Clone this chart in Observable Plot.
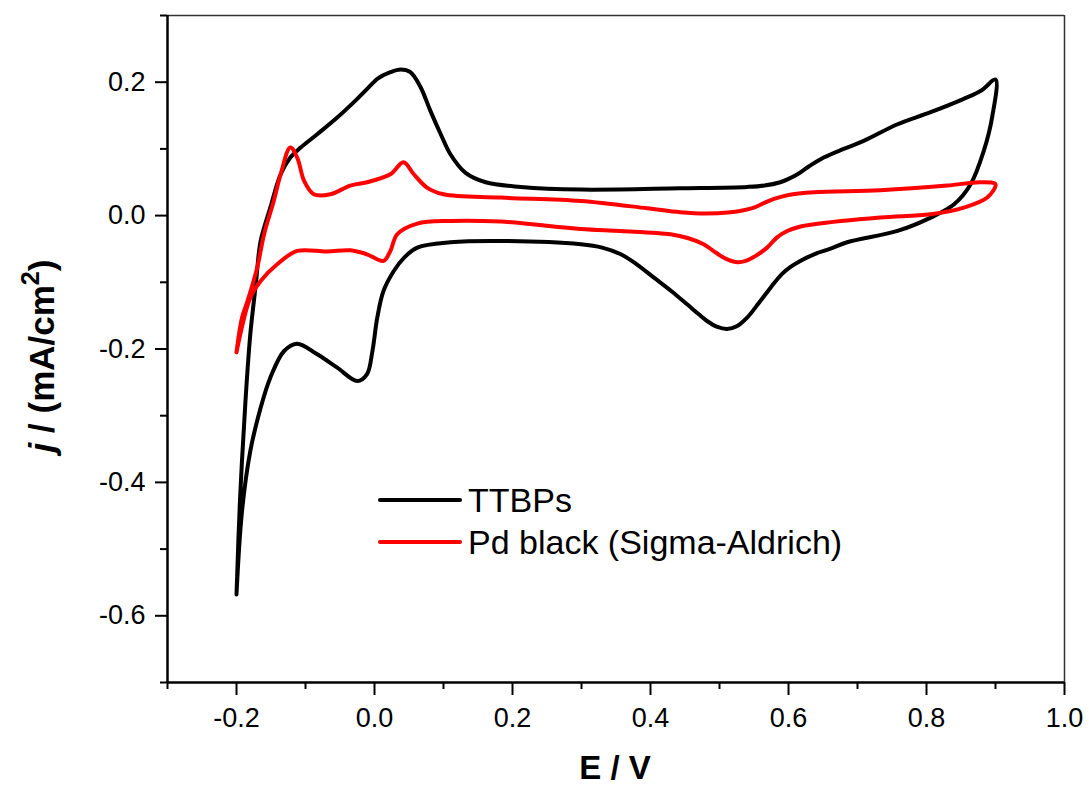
<!DOCTYPE html>
<html>
<head>
<meta charset="utf-8">
<script src="https://cdn.jsdelivr.net/npm/d3@7"></script>
<script src="https://cdn.jsdelivr.net/npm/@observablehq/plot@0.6"></script>
<style>
  body { margin: 0; background: #fff; font-family: "Liberation Sans", Arial, sans-serif; }
  #wrap { position: relative; width: 1089px; height: 787px; background: #fff; }
  #wrap > svg { position: absolute; left: 0; top: 0; }
  .xtitle { position: absolute; left: 415px; width: 400px; top: 748px; text-align: center;
            font-weight: bold; font-size: 33px; line-height: 40px; }
  .ytitle { position: absolute; left: 42px; top: 356px; width: 300px; margin-left: -150px; margin-top: -20px;
            text-align: center; font-weight: bold; font-size: 35px; line-height: 40px;
            transform: rotate(-90deg); white-space: nowrap; }
  .ytitle sup { font-size: 25px; vertical-align: 15px; line-height: 0; }
</style>
</head>
<body>
<div id="wrap"></div>
<script>
// ---- data ----
const ttbpsE = [-0.200, -0.195, -0.187, -0.180, -0.172, -0.165, -0.151, -0.136, -0.122, -0.107, -0.083, -0.054, -0.025, -0.001, 0.004, 0.023, 0.038, 0.052, 0.067, 0.081, 0.096, 0.110, 0.132, 0.161, 0.212, 0.299, 0.443, 0.540, 0.565, 0.588, 0.600, 0.613, 0.630, 0.651, 0.680, 0.709, 0.758, 0.806, 0.854, 0.880, 0.900,
  0.895, 0.883, 0.864, 0.840, 0.806, 0.758, 0.685, 0.660, 0.637, 0.617, 0.603, 0.590, 0.574, 0.557, 0.540, 0.525, 0.511, 0.497, 0.482, 0.470, 0.453, 0.430, 0.405, 0.380, 0.357, 0.330, 0.299, 0.183, 0.110, 0.062, 0.043, 0.028, 0.013, 0.004, -0.003, -0.011, -0.025, -0.054, -0.083, -0.112, -0.131, -0.151, -0.165, -0.180, -0.192, -0.200];
const ttbpsJ = [-0.568, -0.428, -0.278, -0.178, -0.103, -0.038, 0.012, 0.062, 0.087, 0.102, 0.122, 0.147, 0.175, 0.200, 0.205, 0.215, 0.219, 0.215, 0.192, 0.157, 0.122, 0.092, 0.064, 0.050, 0.043, 0.039, 0.041, 0.043, 0.045, 0.050, 0.055, 0.062, 0.074, 0.087, 0.100, 0.112, 0.137, 0.155, 0.175, 0.188, 0.204,
  0.147, 0.097, 0.047, 0.017, -0.003, -0.023, -0.040, -0.050, -0.058, -0.068, -0.077, -0.088, -0.108, -0.131, -0.153, -0.166, -0.170, -0.167, -0.158, -0.148, -0.133, -0.113, -0.093, -0.073, -0.058, -0.048, -0.043, -0.038, -0.040, -0.048, -0.063, -0.083, -0.113, -0.153, -0.203, -0.238, -0.248, -0.228, -0.208, -0.192, -0.203, -0.243, -0.288, -0.353, -0.443, -0.568];

const pdE = [-0.200, -0.192, -0.184, -0.170, -0.160, -0.146, -0.136, -0.122, -0.112, -0.102, -0.088, -0.064, -0.035, -0.011, 0.023, 0.042, 0.057, 0.076, 0.100, 0.183, 0.299, 0.395, 0.443, 0.480, 0.516, 0.535, 0.550, 0.565, 0.579, 0.600, 0.637, 0.733, 0.830, 0.878, 0.900,
  0.888, 0.854, 0.806, 0.733, 0.637, 0.615, 0.598, 0.583, 0.569, 0.553, 0.538, 0.526, 0.512, 0.501, 0.490, 0.477, 0.455, 0.429, 0.357, 0.299, 0.183, 0.110, 0.062, 0.033, 0.023, 0.013, -0.011, -0.035, -0.069, -0.112, -0.141, -0.165, -0.180, -0.200];
const pdJ = [-0.205, -0.153, -0.128, -0.078, -0.028, 0.022, 0.062, 0.102, 0.087, 0.052, 0.032, 0.032, 0.045, 0.050, 0.062, 0.080, 0.062, 0.042, 0.032, 0.027, 0.022, 0.011, 0.005, 0.003, 0.005, 0.008, 0.012, 0.019, 0.025, 0.031, 0.035, 0.038, 0.045, 0.050, 0.047,
  0.027, 0.012, 0.002, -0.003, -0.013, -0.017, -0.023, -0.033, -0.048, -0.060, -0.068, -0.070, -0.066, -0.060, -0.052, -0.043, -0.034, -0.028, -0.023, -0.020, -0.009, -0.008, -0.012, -0.028, -0.053, -0.068, -0.058, -0.052, -0.054, -0.053, -0.073, -0.098, -0.123, -0.205];

const seriesNames = ["TTBPs", "Pd black (Sigma-Aldrich)"];
const seriesColors = ["#000000", "#ff0000"];

const xDomain = [-0.3, 1.0];
const yDomain = [-0.7, 0.3];
const xMajorTicks = [-0.2, 0.0, 0.2, 0.4, 0.6, 0.8, 1.0];
const xMinorTicks = [-0.3, -0.1, 0.1, 0.3, 0.5, 0.7, 0.9];
const yMajorTicks = [-0.6, -0.4, -0.2, 0.0, 0.2];
const yMinorTicks = [-0.7, -0.5, -0.3, -0.1, 0.1, 0.3];

// ---- build tables ----
const ttbps = ttbpsE.map((e, i) => ({E: e, j: ttbpsJ[i]}));
const pd = pdE.map((e, i) => ({E: e, j: pdJ[i]}));
const fmt = d => (Math.abs(d) < 1e-9 ? 0 : d).toFixed(1);

const chart = Plot.plot({
  width: 1089,
  height: 787,
  marginLeft: 167,
  marginRight: 25,
  marginTop: 15,
  marginBottom: 105,
  x: {domain: xDomain},
  y: {domain: yDomain},
  style: {fontFamily: '"Liberation Sans", Arial, sans-serif', fontSize: "27px", color: "#000", background: "#fff", overflow: "visible"},
  marks: [
    Plot.axisX({ticks: xMajorTicks, tickSize: 13, tickPadding: 12, tickFormat: fmt, strokeWidth: 2, label: null}),
    Plot.axisX({ticks: xMinorTicks, tickSize: 7, tickFormat: () => "", strokeWidth: 2, label: null}),
    Plot.axisY({ticks: yMajorTicks, tickSize: 12, tickPadding: 10, tickFormat: fmt, strokeWidth: 2, label: null}),
    Plot.axisY({ticks: yMinorTicks, tickSize: 7, tickFormat: () => "", strokeWidth: 2, label: null}),
    Plot.ruleY([yDomain[1]], {stroke: "#333", strokeWidth: 1.5}),
    Plot.ruleX([xDomain[1]], {stroke: "#333", strokeWidth: 1.5}),
    Plot.ruleY([yDomain[0]], {stroke: "#000", strokeWidth: 2.5}),
    Plot.ruleX([xDomain[0]], {stroke: "#000", strokeWidth: 2.5}),
    Plot.line(ttbps, {x: "E", y: "j", stroke: seriesColors[0], strokeWidth: 4, curve: "catmull-rom", strokeLinejoin: "round"}),
    Plot.line(pd, {x: "E", y: "j", stroke: seriesColors[1], strokeWidth: 4, curve: "catmull-rom", strokeLinejoin: "round"})
  ]
});

const wrap = document.getElementById("wrap");
wrap.appendChild(chart);

// axis titles
const xt = document.createElement("div");
xt.className = "xtitle";
xt.textContent = "E / V";
wrap.appendChild(xt);

const yt = document.createElement("div");
yt.className = "ytitle";
yt.innerHTML = "<i>j</i> / (mA/cm<sup>2</sup>)";
wrap.appendChild(yt);

// legend
const ns = "http://www.w3.org/2000/svg";
const leg = document.createElementNS(ns, "svg");
leg.setAttribute("width", 520);
leg.setAttribute("height", 90);
leg.style.position = "absolute";
leg.style.left = "370px";
leg.style.top = "478px";
seriesNames.forEach((name, i) => {
  const cy = 22 + i * 42;
  const ln = document.createElementNS(ns, "line");
  ln.setAttribute("x1", 10); ln.setAttribute("x2", 90);
  ln.setAttribute("y1", cy); ln.setAttribute("y2", cy);
  ln.setAttribute("stroke", seriesColors[i]);
  ln.setAttribute("stroke-width", 4);
  ln.setAttribute("stroke-linecap", "round");
  leg.appendChild(ln);
  const tx = document.createElementNS(ns, "text");
  tx.setAttribute("x", 98);
  tx.setAttribute("y", cy + 12);
  tx.setAttribute("font-size", 34);
  tx.setAttribute("font-family", '"Liberation Sans", Arial, sans-serif');
  tx.setAttribute("fill", "#000");
  tx.textContent = name;
  leg.appendChild(tx);
});
wrap.appendChild(leg);
</script>
</body>
</html>
